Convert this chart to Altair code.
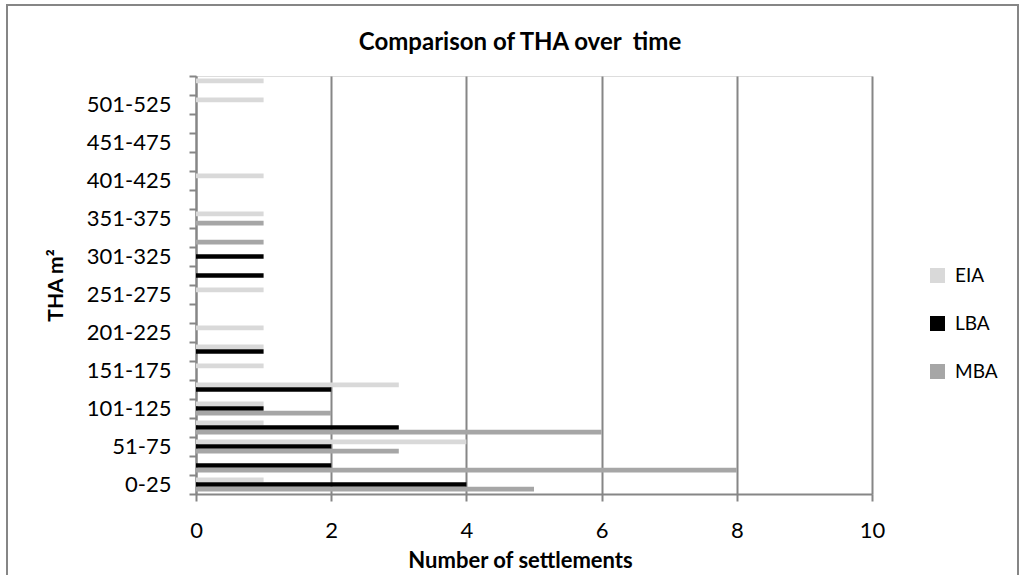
import altair as alt
import pandas as pd

# THA size classes (m²), listed from the smallest upward
classes = [
    "0-25", "26-50", "51-75", "76-100", "101-125", "126-150", "151-175",
    "176-200", "201-225", "226-250", "251-275", "276-300", "301-325",
    "326-350", "351-375", "376-400", "401-425", "426-450", "451-475",
    "476-500", "501-525", "526-550",
]
# Number of settlements per class and period
eia = [1, 0, 4, 1, 1, 3, 1, 1, 1, 0, 1, 0, 0, 0, 1, 0, 1, 0, 0, 0, 1, 1]
lba = [4, 2, 2, 3, 1, 2, 0, 1, 0, 0, 0, 1, 1, 0, 0, 0, 0, 0, 0, 0, 0, 0]
mba = [5, 8, 3, 6, 2, 0, 0, 0, 0, 0, 0, 0, 0, 1, 1, 0, 0, 0, 0, 0, 0, 0]

periods = ["EIA", "LBA", "MBA"]
period_colors = ["#d9d9d9", "#000000", "#a6a6a6"]
x_ticks = [0, 2, 4, 6, 8, 10]
shown_labels = classes[::2]

rows = []
for name, values in zip(periods, [eia, lba, mba]):
    for cls, v in zip(classes, values):
        rows.append({"class": cls, "period": name, "count": v})
df = pd.DataFrame(rows)

FONT = "Lato"
GREY = "#868686"
label_list = "[" + ",".join("'" + s + "'" for s in shown_labels) + "]"

bars = alt.Chart(df).mark_bar().encode(
    x=alt.X(
        "count:Q",
        scale=alt.Scale(domain=[0, 10], nice=False),
        axis=alt.Axis(
            values=x_ticks,
            title="Number of settlements",
            titleFont=FONT,
            titleFontSize=22,
            titleFontWeight="bold",
            titleColor="#000000",
            titleX=324,
            titleY=66,
            titleBaseline="middle",
            titleAlign="center",
            labelFont=FONT,
            labelFontSize=22,
            labelColor="#000000",
            labelPadding=19,
            labelFlush=False,
            domainColor=GREY,
            domainWidth=2,
            tickColor=GREY,
            tickWidth=2,
            tickSize=7,
            grid=True,
            gridColor=GREY,
            gridWidth=2,
        ),
    ),
    y=alt.Y(
        "class:N",
        sort=list(reversed(classes)),
        scale=alt.Scale(paddingInner=0, paddingOuter=0),
        axis=alt.Axis(
            title="THA m²",
            titleFont=FONT,
            titleFontSize=21,
            titleFontWeight="bold",
            titleColor="#000000",
            titleX=-140,
            titleY=209,
            titleAngle=270,
            titleBaseline="middle",
            titleAlign="center",
            labelFont=FONT,
            labelFontSize=22,
            labelColor="#000000",
            labelPadding=18,
            labelExpr="indexof(" + label_list + ", datum.value) >= 0 ? datum.value : ''",
            tickBand="extent",
            domainColor=GREY,
            domainWidth=2,
            tickColor=GREY,
            tickWidth=2,
            tickSize=7,
            grid=False,
        ),
    ),
    yOffset=alt.YOffset(
        "period:N",
        sort=periods,
        scale=alt.Scale(paddingInner=0, paddingOuter=0.55),
    ),
    color=alt.Color(
        "period:N",
        sort=periods,
        scale=alt.Scale(domain=periods, range=period_colors),
        legend=alt.Legend(
            title=None,
            orient="none",
            legendX=732,
            legendY=190,
            symbolType="square",
            symbolSize=225,
            symbolStrokeWidth=0,
            labelFont=FONT,
            labelFontSize=19,
            labelColor="#000000",
            labelOffset=8,
            rowPadding=28,
            padding=0,
        ),
    ),
)

# outer chart frame
frame = alt.Chart(pd.DataFrame({"k": [0]})).mark_rect(
    fill=None, stroke=GREY, strokeWidth=2
).encode(
    x=alt.value(-189), x2=alt.value(822), y=alt.value(-71), y2=alt.value(530)
)

chart = alt.layer(frame, bars).properties(
    width=676,
    height=418,
    title=alt.Title(
        "Comparison of THA over\u00a0 time",
        font=FONT,
        fontSize=24,
        fontWeight="bold",
        color="#000000",
        anchor="middle",
        dx=-14,
        offset=0,
        dy=70,
        baseline="alphabetic",
    ),
    autosize="none",
    padding={"left": 196, "top": 76, "right": 147, "bottom": 81},
).configure_view(stroke=None).configure(background="#ffffff")

chart.save("out.html", embed_options={"renderer": "svg", "actions": False})
